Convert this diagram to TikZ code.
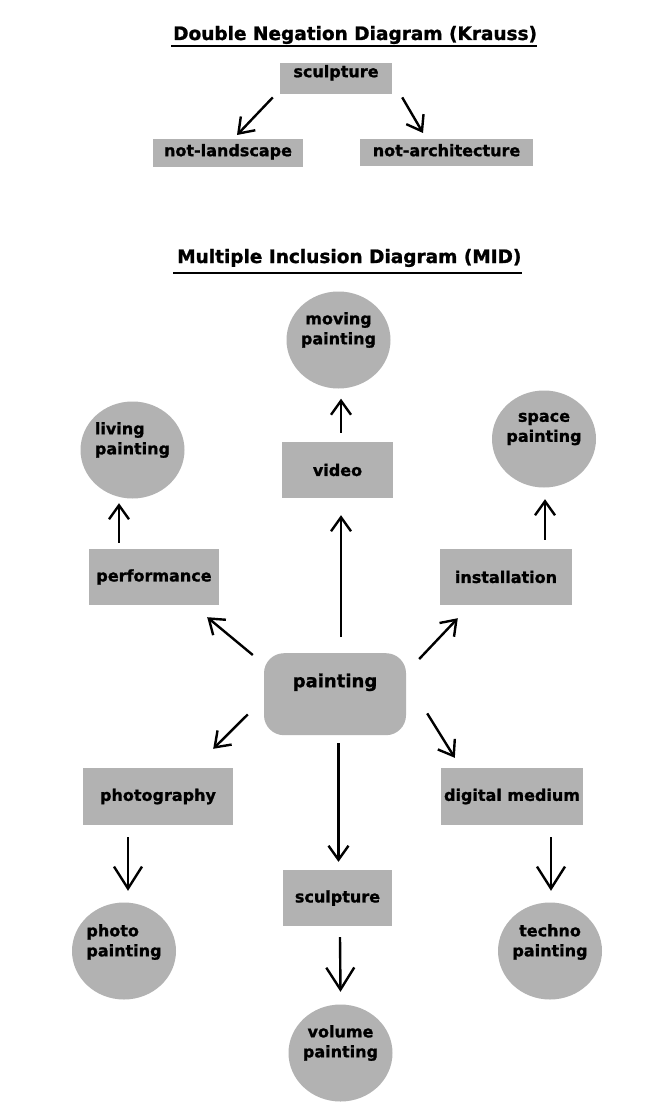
\documentclass[tikz,border=0pt]{standalone}
\usepackage{fontspec}
\setmainfont{DejaVu Sans}[BoldFeatures={FakeBold=1.2}]
\usepackage{tikz}
\usetikzlibrary{arrows.meta,shapes.geometric}
\definecolor{boxgray}{RGB}{178,178,178}

\begin{document}
\begin{tikzpicture}[
  x=1pt, y=-1pt,
  font=\bfseries\fontsize{16}{20}\selectfont,
  dnbox/.style={fill=boxgray, anchor=north, inner sep=0pt},
  mbox/.style={fill=boxgray, minimum height=56pt, inner sep=0pt},
  blob/.style={ellipse, fill=boxgray, minimum width=104pt, minimum height=97pt, inner sep=0pt},
  blobtxt/.style={align=center, inner sep=0pt},
  ttl/.style={anchor=base west, inner sep=0pt, font=\bfseries\fontsize{18.5}{22}\selectfont},
  ul/.style={line width=2.2pt},
  >={Straight Barb[length=14pt,width=20pt]},
  arr/.style={->, line width=2.4pt},
  bigarr/.style={-{Straight Barb[length=22pt,width=28pt]}, line width=2.4pt},
]
\path[use as bounding box, fill=white] (0,0) rectangle (653,1115);

\node[ttl] (dntitle) at (173,40) {Double Negation Diagram (Krauss)};
\draw[ul] ([xshift=-2pt,yshift=-6pt]dntitle.base west) -- ([yshift=-6pt]dntitle.base east);
\node[dnbox, minimum width=112pt, text height=14pt, text depth=17pt] (topsc) at (336,63) {sculpture};
\node[dnbox, minimum width=150pt, text height=17pt, text depth=11pt] (nland) at (228,139) {not-landscape};
\node[dnbox, minimum width=173pt, text height=17pt, text depth=10pt] (narch) at (446.5,139) {not-architecture};
\draw[arr] ([xshift=-7pt,yshift=-3pt]topsc.south west) -- ([xshift=9pt,yshift=4pt]nland.north);
\draw[arr] ([xshift=10pt,yshift=-3pt]topsc.south east) -- ([xshift=-23.5pt,yshift=6pt]narch.north);

\node[ttl] (midtitle) at (177,263) {Multiple Inclusion Diagram (MID)};
\draw[ul] ([xshift=-4pt,yshift=-10pt]midtitle.base west) -- ([yshift=-10pt]midtitle.base east);

\node[fill=boxgray, rounded corners=20pt, anchor=north, minimum width=142pt, inner sep=0pt,
  text height=34pt, text depth=48pt, font=\bfseries\fontsize{18}{22}\selectfont] (paint) at (335,653) {painting};

\node[mbox, minimum width=111pt] (video) at (337.5,470) {video};
\node[mbox, minimum width=130pt] (perf) at (154,577) {performance};
\node[mbox, minimum width=132pt] (inst) at (506,577) {installation};
\node[mbox, minimum width=150pt, minimum height=57pt] (photog) at (158,796.5) {photography};
\node[mbox, minimum width=142pt, minimum height=57pt] (digital) at (512,796.5) {digital medium};
\node[mbox, minimum width=109pt] (sculpt) at (337.5,898) {sculpture};

\node[blob] (moving) at (338.5,340) {};
\node[blobtxt] (movingtxt) at ([yshift=10pt]moving) {moving\\painting};
\node[blob] (living) at (132.5,450) {};
\node[blobtxt, align=left] (livingtxt) at ([yshift=10pt]living) {living\\painting};
\node[blob] (space) at (544,439) {};
\node[blobtxt] (spacetxt) at ([yshift=10pt]space) {space\\painting};
\node[blob] (photop) at (124,951) {};
\node[blobtxt, align=left] (phototxt) at ([yshift=9pt]photop) {photo\\painting};
\node[blob] (techno) at (550,951) {};
\node[blobtxt] (technotxt) at ([yshift=9pt]techno) {techno\\painting};
\node[blob] (volume) at (340.5,1053) {};
\node[blobtxt] (volumetxt) at ([yshift=10pt]volume) {volume\\painting};

\draw[arr] ([xshift=6pt,yshift=16pt]paint.north) -- ([xshift=3.5pt,yshift=-17pt]video.south);
\draw[arr] ([xshift=3.5pt,yshift=9pt]video.north) -- ([xshift=2.5pt,yshift=-10pt]moving.south);
\draw[arr] ([xshift=-35pt,yshift=6pt]perf.north) -- ([xshift=-13.5pt,yshift=-4.5pt]living.south);
\draw[arr] ([xshift=39pt,yshift=9pt]inst.north) -- ([xshift=1pt,yshift=-11.5pt]space.south);
\draw[arr] ([xshift=-11pt,yshift=-2pt]paint.north west) -- ([xshift=-12pt,yshift=-12pt]perf.south east);
\draw[arr] ([xshift=13pt,yshift=-6pt]paint.north east) -- ([xshift=18pt,yshift=-13pt]inst.south west);
\draw[arr] ([xshift=-16pt,yshift=21pt]paint.south west) -- ([xshift=-20pt,yshift=19pt]photog.north east);
\draw[arr] ([xshift=21pt,yshift=22pt]paint.south east) -- ([xshift=14pt,yshift=10pt]digital.north west);
\draw[arr] ([xshift=3.5pt,yshift=-8pt]paint.south) -- ([xshift=1pt,yshift=8pt]sculpt.north);
\draw[bigarr] ([xshift=2.5pt,yshift=-11pt]sculpt.south) -- ([yshift=12.5pt]volume.north);
\draw[bigarr] ([xshift=-30pt,yshift=-12pt]photog.south) -- ([xshift=4pt,yshift=11.5pt]photop.north);
\draw[bigarr] ([xshift=39pt,yshift=-12pt]digital.south) -- ([xshift=1pt,yshift=11.5pt]techno.north);
\end{tikzpicture}
\end{document}
